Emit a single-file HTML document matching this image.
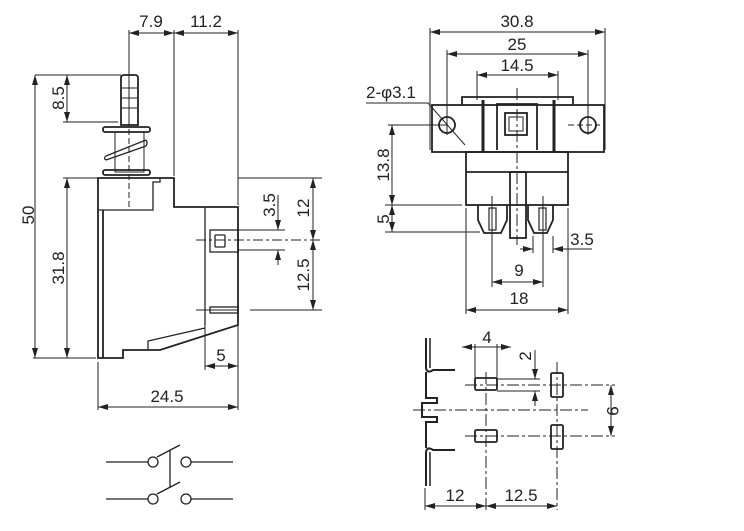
<!DOCTYPE html>
<html><head><style>html,body{margin:0;padding:0;background:#fff}svg{display:block}text{font-family:"Liberation Sans",sans-serif;font-size:17px;fill:#222}</style></head><body>
<svg width="744" height="531" viewBox="0 0 744 531" xmlns="http://www.w3.org/2000/svg">
<defs>
<marker id="a" viewBox="0 0 10 6" refX="10" refY="3" markerWidth="10" markerHeight="6" orient="auto-start-reverse" markerUnits="userSpaceOnUse"><path d="M0,0L10,3L0,6z" fill="#222"/></marker>
</defs>
<g stroke="#222" fill="none" stroke-width="1">
<line x1="129" y1="30" x2="129" y2="120" />
<line x1="129" y1="120" x2="129" y2="210" stroke-dasharray="6,3"/>
<line x1="174" y1="30" x2="174" y2="176"/>
<line x1="238" y1="30" x2="238" y2="205"/>
<line x1="129" y1="33" x2="174" y2="33" marker-start="url(#a)" marker-end="url(#a)"/>
<line x1="174" y1="33" x2="238" y2="33" marker-start="url(#a)" marker-end="url(#a)"/>
<line x1="35" y1="75" x2="121" y2="75"/>
<line x1="63" y1="122" x2="118" y2="122"/>
<line x1="35" y1="75" x2="35" y2="358" marker-start="url(#a)" marker-end="url(#a)"/>
<line x1="67" y1="75" x2="67" y2="122" marker-start="url(#a)" marker-end="url(#a)"/>
<line x1="63" y1="178" x2="98" y2="178"/>
<line x1="33" y1="358" x2="96" y2="358"/>
<line x1="67" y1="178" x2="67" y2="358" marker-start="url(#a)" marker-end="url(#a)"/>
<line x1="238" y1="178" x2="322" y2="178"/>
<line x1="196" y1="240" x2="322" y2="240" stroke-dasharray="10,3,3,3"/>
<line x1="238" y1="230" x2="285" y2="230"/>
<line x1="238" y1="250" x2="285" y2="250"/>
<line x1="250" y1="310" x2="322" y2="310"/>
<line x1="196" y1="310" x2="238" y2="310"/>
<line x1="313" y1="178" x2="313" y2="240" marker-start="url(#a)" marker-end="url(#a)"/>
<line x1="313" y1="240" x2="313" y2="310" marker-start="url(#a)" marker-end="url(#a)"/>
<line x1="278" y1="195" x2="278" y2="230" marker-end="url(#a)"/>
<line x1="278" y1="265" x2="278" y2="250" marker-end="url(#a)"/>
<line x1="205" y1="325" x2="205" y2="370"/>
<line x1="205" y1="366" x2="238" y2="366" marker-start="url(#a)" marker-end="url(#a)"/>
<line x1="98" y1="362" x2="98" y2="410"/>
<line x1="238" y1="300" x2="238" y2="410"/>
<line x1="98" y1="407" x2="238" y2="407" marker-start="url(#a)" marker-end="url(#a)"/>
</g>
<g stroke="#222" fill="none" stroke-width="1.8">
<path d="M121,78 Q121,75 124,75 L135,75 Q138,75 138,78 L138,125 L121,125 Z"/>
<line x1="122" y1="88" x2="137" y2="88" stroke-width="1"/><line x1="122" y1="98" x2="137" y2="98" stroke-width="1"/><line x1="122" y1="108" x2="137" y2="108" stroke-width="1"/>
<rect x="103" y="127" width="47" height="5" rx="2"/>
<rect x="115" y="132" width="29" height="40" stroke-width="1"/>
<path d="M106,156 L146,140 M106,160 L146,146 M106,156 Q103,158 106,160 M146,140 Q148,143 146,146" stroke-width="1.3"/>
<rect x="103" y="170" width="47" height="5" rx="2"/>
<path d="M98,178 L174,178 L174,207 L205,207 L238,207 L238,325 L160,350 L148,350 L123,350 L123,358 L98,358 Z"/>
<path d="M98,210 L153,210 L153,182 L160,182 L160,178" stroke-width="1.3"/>
<line x1="103" y1="210" x2="103" y2="358"/>
<path d="M205,207 L205,325" stroke-width="1.3"/>
<path d="M148,350 L148,341 L205,328" stroke-width="1.3"/>
<rect x="210" y="230" width="28" height="22" stroke-width="1.3"/>
<rect x="215" y="235" width="10" height="12" rx="1" stroke-width="1.3"/>
<rect x="210" y="307" width="28" height="6" stroke-width="1.3"/>
<rect x="432" y="105" width="172" height="47"/>
<path d="M462,105 L462,97 L573,97 L573,105"/>
<circle cx="447" cy="125" r="8"/><circle cx="588" cy="125" r="8"/>
<line x1="483" y1="100" x2="483" y2="152" stroke-width="3"/>
<line x1="554" y1="100" x2="554" y2="152" stroke-width="3"/>
<path d="M497,150 L497,104 L537,104 L537,150"/>
<rect x="505" y="113" width="22" height="22"/>
<rect x="509" y="117" width="14" height="14" stroke-width="1"/>
<rect x="466" y="152" width="102" height="53"/>
<line x1="466" y1="172" x2="568" y2="172"/>
<rect x="510" y="172" width="16" height="66"/>
<path d="M478,205 L478,220 L484,233 L501,233 L507,220 L507,205"/>
<path d="M528,205 L528,220 L534,233 L547,233 L553,220 L553,205"/>
<rect x="489" y="208" width="7" height="22" stroke-width="1.2"/>
<rect x="539" y="208" width="7" height="22" stroke-width="1.2"/>
<!-- terminal -->
<path d="M426,338 L426,368 Q427,374 433,370 L455,370" stroke-width="2"/>
<path d="M430,338 L430,368" stroke-width="1.5"/>
<path d="M426,372 L426,398 L437,398 L437,403 L422,403 L422,417 L437,417 L437,422 L426,422 L426,448" stroke-width="2"/>
<path d="M426,486 L426,452 Q427,446 433,450 L455,450" stroke-width="2"/>
<path d="M430,486 L430,452" stroke-width="1.5"/>
<rect x="475" y="378" width="22" height="12" rx="1.5"/>
<rect x="475" y="430" width="22" height="12" rx="1.5"/>
<rect x="551" y="373" width="12" height="24" rx="1.5"/>
<rect x="551" y="425" width="12" height="24" rx="1.5"/>
<line x1="106" y1="462" x2="148" y2="462" stroke-width="1.3"/>
<circle cx="153" cy="462" r="5" stroke-width="1.3"/><circle cx="186" cy="462" r="5" stroke-width="1.3"/>
<line x1="191" y1="462" x2="233" y2="462" stroke-width="1.3"/>
<line x1="106" y1="499" x2="148" y2="499" stroke-width="1.3"/>
<circle cx="153" cy="499" r="5" stroke-width="1.3"/><circle cx="186" cy="499" r="5" stroke-width="1.3"/>
<line x1="191" y1="499" x2="233" y2="499" stroke-width="1.3"/>
<line x1="157" y1="457" x2="180" y2="445" stroke-width="1.3"/>
<line x1="157" y1="494" x2="180" y2="482" stroke-width="1.3"/>
<line x1="170" y1="450" x2="170" y2="488" stroke-width="1.3"/>
</g>
<g stroke="#222" fill="none" stroke-width="1">
<line x1="430" y1="28" x2="430" y2="150"/><line x1="605" y1="28" x2="605" y2="150"/>
<line x1="430" y1="32" x2="605" y2="32" marker-start="url(#a)" marker-end="url(#a)"/>
<line x1="447" y1="50" x2="447" y2="135"/><line x1="588" y1="50" x2="588" y2="135"/>
<line x1="447" y1="54" x2="588" y2="54" marker-start="url(#a)" marker-end="url(#a)"/>
<line x1="477" y1="71" x2="477" y2="100"/><line x1="558" y1="71" x2="558" y2="100"/>
<line x1="477" y1="75" x2="558" y2="75" marker-start="url(#a)" marker-end="url(#a)"/>
<line x1="517" y1="88" x2="517" y2="245" stroke-dasharray="12,3,3,3"/>
<line x1="568" y1="125" x2="600" y2="125" stroke-dasharray="6,3"/>
<path d="M366,103 L428,103 L465,145"/>
<line x1="388" y1="125" x2="447" y2="125"/>
<line x1="385" y1="205" x2="462" y2="205"/>
<line x1="385" y1="232" x2="480" y2="232"/>
<line x1="392" y1="125" x2="392" y2="205" marker-start="url(#a)" marker-end="url(#a)"/>
<line x1="392" y1="205" x2="392" y2="232" marker-start="url(#a)" marker-end="url(#a)"/>
<line x1="466" y1="208" x2="466" y2="314"/><line x1="568" y1="208" x2="568" y2="314"/>
<line x1="492" y1="196" x2="492" y2="287"/><line x1="543" y1="196" x2="543" y2="287"/>
<line x1="533" y1="236" x2="533" y2="253"/><line x1="553" y1="236" x2="553" y2="253"/>
<line x1="520" y1="249" x2="533" y2="249" marker-end="url(#a)"/>
<line x1="592" y1="249" x2="553" y2="249" marker-end="url(#a)"/>
<line x1="492" y1="282" x2="543" y2="282" marker-start="url(#a)" marker-end="url(#a)"/>
<line x1="466" y1="310" x2="568" y2="310" marker-start="url(#a)" marker-end="url(#a)"/>
<line x1="462" y1="347" x2="511" y2="347" marker-start="url(#a)" marker-end="url(#a)"/>
<line x1="475" y1="344" x2="475" y2="378"/><line x1="497" y1="344" x2="497" y2="378"/>
<line x1="497" y1="379" x2="540" y2="379"/><line x1="497" y1="391" x2="540" y2="391"/>
<line x1="535" y1="350" x2="535" y2="379" marker-end="url(#a)"/>
<line x1="535" y1="406" x2="535" y2="391" marker-end="url(#a)"/>
<line x1="465" y1="385" x2="615" y2="385" stroke-dasharray="12,3,3,3"/>
<line x1="465" y1="436" x2="615" y2="436" stroke-dasharray="12,3,3,3"/>
<line x1="413" y1="410" x2="588" y2="410" stroke-dasharray="12,3,3,3"/>
<line x1="486" y1="372" x2="486" y2="510" stroke-dasharray="12,3,3,3"/>
<line x1="557" y1="362" x2="557" y2="510" stroke-dasharray="12,3,3,3"/>
<line x1="611" y1="385" x2="611" y2="436" marker-start="url(#a)" marker-end="url(#a)"/>
<line x1="425" y1="488" x2="425" y2="510"/>
<line x1="425" y1="506" x2="486" y2="506" marker-start="url(#a)" marker-end="url(#a)"/>
<line x1="486" y1="506" x2="557" y2="506" marker-start="url(#a)" marker-end="url(#a)"/>
</g>
<g>
<text x="151" y="27" text-anchor="middle">7.9</text>
<text x="206" y="27" text-anchor="middle">11.2</text>
<text transform="translate(34,215) rotate(-90)" text-anchor="middle">50</text>
<text transform="translate(64,98) rotate(-90)" text-anchor="middle">8.5</text>
<text transform="translate(64,268) rotate(-90)" text-anchor="middle">31.8</text>
<text transform="translate(275,205) rotate(-90)" text-anchor="middle">3.5</text>
<text transform="translate(309,208) rotate(-90)" text-anchor="middle">12</text>
<text transform="translate(309,275) rotate(-90)" text-anchor="middle">12.5</text>
<text x="221" y="361" text-anchor="middle">5</text>
<text x="167" y="402" text-anchor="middle">24.5</text>
<text x="517" y="27" text-anchor="middle">30.8</text>
<text x="517" y="50" text-anchor="middle">25</text>
<text x="517" y="71" text-anchor="middle">14.5</text>
<text x="366" y="98">2-φ3.1</text>
<text transform="translate(389,165) rotate(-90)" text-anchor="middle">13.8</text>
<text transform="translate(389,219) rotate(-90)" text-anchor="middle">5</text>
<text x="582" y="245" text-anchor="middle">3.5</text>
<text x="519" y="276" text-anchor="middle">9</text>
<text x="519" y="304" text-anchor="middle">18</text>
<text x="487" y="343" text-anchor="middle">4</text>
<text transform="translate(531,356) rotate(-90)" text-anchor="middle">2</text>
<text transform="translate(607,411) rotate(90)" text-anchor="middle">9</text>
<text x="455" y="501" text-anchor="middle">12</text>
<text x="521" y="501" text-anchor="middle">12.5</text>
</g>
</svg>
</body></html>
